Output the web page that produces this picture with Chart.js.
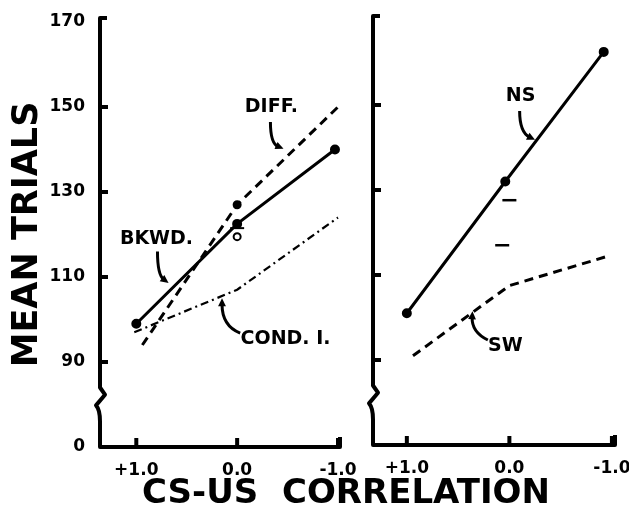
<!DOCTYPE html>
<html>
<head>
<meta charset="utf-8">
<script src="https://cdn.jsdelivr.net/npm/chart.js@4.4.0/dist/chart.umd.min.js"></script>
<style>
  body { margin: 0; background: #fff; }
  #wrap { position: relative; width: 629px; height: 515px; overflow: hidden; background: #fff; }
  canvas { position: absolute; top: 0; }
  #left { left: 0; }
  #right { left: 330px; }
  #xtitle { position: absolute; left: 0; top: 471px; width: 692px; text-align: center;
            font: bold 34px "DejaVu Sans", sans-serif; line-height: 40px; color: #000; white-space: pre; }
</style>
</head>
<body>
<div id="wrap">
  <canvas id="left" width="360" height="490"></canvas>
  <canvas id="right" width="299" height="490"></canvas>
  <div id="xtitle">CS-US  CORRELATION</div>
</div>
<script>
// tick values + labels
var xVals = [1, 0, -1];
var xLabels = ['+1.0', '0.0', '-1.0'];
var yVals = [70, 90, 110, 130, 150, 170];
var yLabels = ['0', '90', '110', '130', '150', '170'];

// left panel
var bkwdX = [1.0, 0.0, -0.97];
var bkwdY = [99, 122.5, 140];
var diffX = [0.94, 0.0, -1.0];
var diffY = [94, 127, 150];
var condX = [1.02, 0.0, -1.0];
var condY = [97, 107, 124];
var leftMarkX = [0.0, 0.0];
var leftMarkY = [119.5, 121.5];

// right panel
var nsX = [1.0, 0.04, -0.92];
var nsY = [101, 132, 162.5];
var swX = [0.94, 0.0, -0.97];
var swY = [91, 107.5, 114.5];
var rightMarkX = [0.0, 0.07];
var rightMarkY = [127.6, 117];

function pts(xs, ys) {
  return xs.map(function(x, i) { return { x: x, y: ys[i] }; });
}

var tickFont = { family: 'DejaVu Sans', size: 17, weight: 'bold' };
var noteFont = 'bold 19px "DejaVu Sans"';

// hand drawn looking axes, break, and the labels with arrows
var panelArt = {
  id: 'panelArt',
  afterDraw: function(chart, args, opts) {
    var ctx = chart.ctx, xs = chart.scales.x, ys = chart.scales.y, a = chart.chartArea;
    var L = a.left, B = ys.getPixelForValue(70), T = ys.getPixelForValue(170);
    ctx.save();
    ctx.strokeStyle = '#000';
    ctx.fillStyle = '#000';
    ctx.lineWidth = 4;
    ctx.lineJoin = 'round';
    ctx.beginPath();
    ctx.moveTo(L + 7, T - 4);
    ctx.lineTo(L, T - 4);
    ctx.lineTo(L, ys.getPixelForValue(84));
    ctx.lineTo(L + 5, ys.getPixelForValue(82.3));
    ctx.lineTo(L - 4, ys.getPixelForValue(79.8));
    ctx.quadraticCurveTo(L, ys.getPixelForValue(78.8), L, ys.getPixelForValue(76));
    ctx.lineTo(L, B);
    ctx.lineTo(a.right, B);
    ctx.lineTo(a.right, B - 10);
    ctx.stroke();

    // y ticks point inward
    yVals.forEach(function(v) {
      if (v === 70 || v === 170) return;
      var py = ys.getPixelForValue(v);
      ctx.beginPath(); ctx.moveTo(L, py); ctx.lineTo(L + 8, py); ctx.stroke();
    });
    // x ticks point up
    xVals.forEach(function(v) {
      var px = xs.getPixelForValue(v);
      ctx.beginPath(); ctx.moveTo(px, B); ctx.lineTo(px, B - 9); ctx.stroke();
    });

    // notes
    ctx.font = noteFont;
    ctx.textAlign = 'center';
    ctx.textBaseline = 'middle';
    (opts.notes || []).forEach(function(n) {
      ctx.fillText(n.text, xs.getPixelForValue(n.x), ys.getPixelForValue(n.y));
    });
    ctx.lineWidth = 3;
    (opts.arrows || []).forEach(function(r) {
      var x0 = xs.getPixelForValue(r[0]), y0 = ys.getPixelForValue(r[1]);
      var cx = xs.getPixelForValue(r[2]), cy = ys.getPixelForValue(r[3]);
      var x1 = xs.getPixelForValue(r[4]), y1 = ys.getPixelForValue(r[5]);
      var ang = Math.atan2(y1 - cy, x1 - cx);
      var hx = x1 - 6 * Math.cos(ang), hy = y1 - 6 * Math.sin(ang);
      ctx.beginPath();
      ctx.moveTo(x0, y0);
      ctx.quadraticCurveTo(cx, cy, hx, hy);
      ctx.stroke();
      ctx.beginPath();
      ctx.moveTo(x1, y1);
      ctx.lineTo(x1 - 9 * Math.cos(ang - 0.45), y1 - 9 * Math.sin(ang - 0.45));
      ctx.lineTo(x1 - 9 * Math.cos(ang + 0.45), y1 - 9 * Math.sin(ang + 0.45));
      ctx.closePath();
      ctx.fill();
    });
    ctx.restore();
  }
};

function makePanel(id, datasets, o) {
  var config = {
    type: 'scatter',
    data: { datasets: datasets },
    options: {
      responsive: false,
      animation: false,
      layout: { padding: { top: o.top, right: o.right, left: 0, bottom: 0 } },
      plugins: {
        legend: { display: false },
        tooltip: { enabled: false },
        panelArt: { notes: o.notes, arrows: o.arrows }
      },
      scales: {
        x: {
          type: 'linear',
          reverse: true,
          min: o.xMin,
          max: o.xMax,
          grid: { display: false, drawTicks: false },
          border: { display: false },
          afterBuildTicks: function(s) { s.ticks = xVals.map(function(v) { return { value: v }; }); },
          afterFit: function(s) { s.height = o.xHeight; s.paddingLeft = 0; s.paddingRight = 0; },
          ticks: {
            autoSkip: false,
            maxRotation: 0,
            padding: 13,
            color: '#000',
            font: tickFont,
            callback: function(v) { return xLabels[xVals.indexOf(v)]; }
          }
        },
        y: {
          type: 'linear',
          min: 70,
          max: 170,
          grid: { display: false, drawTicks: false },
          border: { display: false },
          afterBuildTicks: function(s) { s.ticks = yVals.map(function(v) { return { value: v }; }); },
          afterFit: function(s) { s.width = o.yWidth; s.paddingTop = 0; s.paddingBottom = 0; },
          title: {
            display: o.yTitle,
            text: 'MEAN TRIALS',
            color: '#000',
            font: { family: 'DejaVu Sans', size: 35, weight: 'bold', lineHeight: 1 },
            padding: { top: 10, bottom: 0 }
          },
          ticks: {
            display: o.yTitle,
            padding: 15,
            color: '#000',
            font: tickFont,
            callback: function(v) { return yLabels[yVals.indexOf(v)]; }
          }
        }
      }
    },
    plugins: [panelArt]
  };
  return new Chart(document.getElementById(id).getContext('2d'), config);
}

var solid = { borderColor: '#000', borderWidth: 3, showLine: true, tension: 0,
              pointBackgroundColor: '#000', pointBorderColor: '#000' };

function line(label, xs, ys, extra) {
  return Object.assign({ label: label, data: pts(xs, ys) }, solid, extra);
}

window.leftChart = makePanel('left', [
  line('BKWD.', bkwdX, bkwdY, { pointRadius: 3.5 }),
  line('DIFF.', diffX, diffY, { borderDash: [9, 6], pointRadius: [0, 3, 0] }),
  line('COND. I.', condX, condY, { borderWidth: 2.2, borderDash: [8, 4, 2, 4], pointRadius: 0 }),
  { label: 'marks', data: pts(leftMarkX, leftMarkY), showLine: false,
    pointStyle: ['circle', 'line'], pointRadius: [3.5, 7], borderWidth: 2,
    borderColor: '#000', pointBackgroundColor: '#fff' }
], {
  top: 22, right: 20, xMin: -1.02, xMax: 1.36, xHeight: 43, yWidth: 100, yTitle: true,
  notes: [
    { text: 'DIFF.', x: -0.34, y: 150 },
    { text: 'BKWD.', x: 0.80, y: 119 },
    { text: 'COND. I.', x: -0.48, y: 95.4 }
  ],
  arrows: [
    [-0.33, 146.5, -0.33, 141.5, -0.46, 140.2],
    [0.79, 116, 0.79, 110.5, 0.68, 108.6],
    [-0.03, 96.8, 0.15, 98.5, 0.15, 105]
  ]
});

window.rightChart = makePanel('right', [
  line('NS', nsX, nsY, { pointRadius: 3.5 }),
  line('SW', swX, swY, { borderDash: [9, 6], pointRadius: 0 }),
  { label: 'marks', data: pts(rightMarkX, rightMarkY), showLine: false,
    pointStyle: 'line', pointRadius: 7, borderWidth: 2.5, borderColor: '#000' }
], {
  top: 20, right: 14, xMin: -1.03, xMax: 1.33, xHeight: 45, yWidth: 43, yTitle: false,
  notes: [
    { text: 'NS', x: -0.11, y: 152.1 },
    { text: 'SW', x: 0.04, y: 93.3 }
  ],
  arrows: [
    [-0.10, 148.6, -0.10, 143.6, -0.25, 141.8],
    [0.21, 94.7, 0.37, 96.6, 0.36, 101.5]
  ]
});
</script>
</body>
</html>
